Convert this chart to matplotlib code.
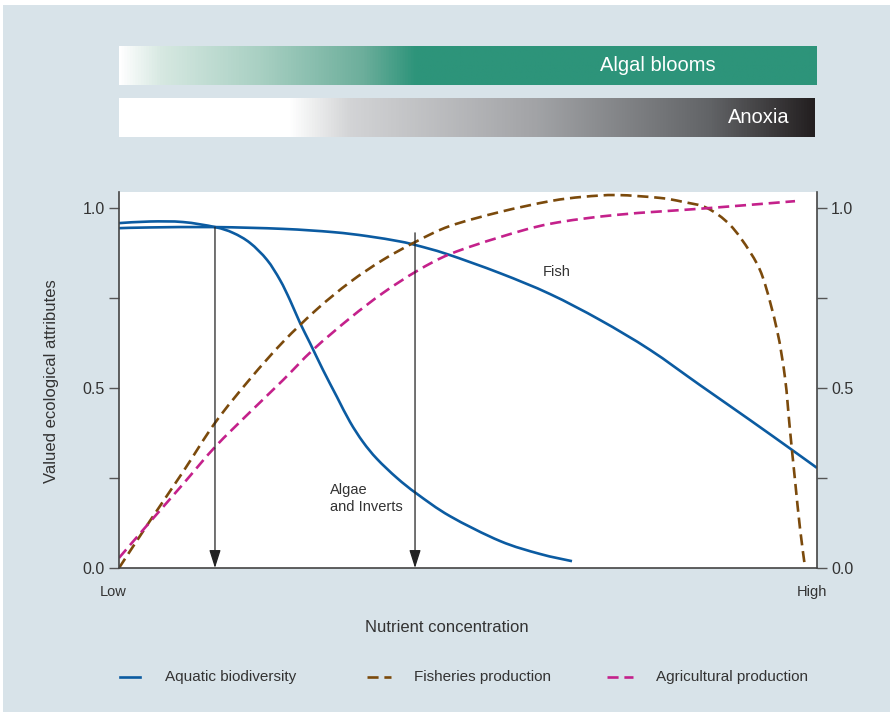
import numpy as np
import matplotlib
matplotlib.use("Agg")
import matplotlib.pyplot as plt
from matplotlib.colors import LinearSegmentedColormap
from matplotlib.patches import Rectangle, PathPatch
from matplotlib.path import Path
from matplotlib.lines import Line2D

# ---------------- data (x: 0 = Low, 1 = High) ----------------
fish_x = [0, 0.0444, 0.1375, 0.2350, 0.3066, 0.3553, 0.4026, 0.4269, 0.4699,
          0.5458, 0.6175, 0.6891, 0.7607, 0.8324, 0.9040, 0.9642, 1.0]
fish_y = [0.944, 0.946, 0.947, 0.942, 0.933, 0.922, 0.907, 0.896, 0.872,
          0.819, 0.761, 0.689, 0.606, 0.508, 0.411, 0.328, 0.278]

algae_x = [0, 0.0444, 0.0917, 0.1375, 0.1633, 0.1877, 0.2120, 0.2307, 0.2450,
           0.2593, 0.2736, 0.2923, 0.3123, 0.3309, 0.3496, 0.3696, 0.3983,
           0.4269, 0.4742, 0.5458, 0.6032, 0.6490]
algae_y = [0.958, 0.9625, 0.961, 0.947, 0.931, 0.903, 0.856, 0.800, 0.744,
           0.681, 0.625, 0.550, 0.475, 0.406, 0.350, 0.303, 0.250,
           0.206, 0.144, 0.075, 0.039, 0.019]

fisheries_x = [0, 0.0444, 0.0917, 0.1375, 0.1877, 0.2350, 0.2837, 0.3309, 0.3782,
               0.4269, 0.4742, 0.5458, 0.6175, 0.6648, 0.7135, 0.7751, 0.8080,
               0.8424, 0.8754, 0.9040, 0.9226, 0.9427, 0.9542, 0.9613, 0.9685,
               0.9756, 0.9828]
fisheries_y = [0, 0.131, 0.267, 0.403, 0.525, 0.628, 0.719, 0.794, 0.856,
               0.908, 0.950, 0.989, 1.019, 1.031, 1.036, 1.028, 1.017,
               1.000, 0.953, 0.878, 0.806, 0.661, 0.528, 0.383, 0.244,
               0.111, 0.003]

agri_x = [0, 0.0444, 0.0917, 0.1375, 0.1877, 0.2350, 0.2779, 0.3309, 0.3782,
          0.4269, 0.4742, 0.5458, 0.6175, 0.7135, 0.8467, 0.9685]
agri_y = [0.028, 0.128, 0.233, 0.336, 0.433, 0.522, 0.606, 0.694, 0.764,
          0.825, 0.872, 0.919, 0.956, 0.981, 1.000, 1.019]

# arrows: x position and top y
arrow_x = [0.1375, 0.4241]
arrow_top = [0.947, 0.931]

yticks = [0, 0.25, 0.5, 0.75, 1.0]
ytick_labels = ["0.0", "", "0.5", "", "1.0"]

legend_names = ["Aquatic biodiversity", "Fisheries production", "Agricultural production"]

# ---------------- style ----------------
bg = "#d8e3e9"
blue = "#0b5ba1"
brown = "#7b4a0c"
magenta = "#c4218b"
txt = "#333333"
plt.rcParams["font.family"] = ["Liberation Sans", "DejaVu Sans"]

W, H = 895, 717
fig = plt.figure(figsize=(W / 100, H / 100), dpi=100, facecolor="white")
fig.add_artist(Rectangle((3 / W, 1 - 712 / H), 887 / W, 707 / H,
                         transform=fig.transFigure, facecolor=bg,
                         edgecolor="none", zorder=0))


def fx(px):
    return px / W


def fy(py):
    return 1 - py / H


def smooth_path(xs, ys):
    # catmull-rom through the read points, as cubic bezier segments
    p = np.column_stack([xs, ys]).astype(float)
    p_ext = np.vstack([p[0], p, p[-1]])
    verts = [p[0]]
    codes = [Path.MOVETO]
    for i in range(1, len(p_ext) - 2):
        p0, p1, p2, p3 = p_ext[i - 1], p_ext[i], p_ext[i + 1], p_ext[i + 2]
        verts += [p1 + (p2 - p0) / 6, p2 - (p3 - p1) / 6, p2]
        codes += [Path.CURVE4] * 3
    return Path(verts, codes)


# ---------------- gradient bars ----------------
green_cmap = LinearSegmentedColormap.from_list(
    "algal", [(0, "#ffffff"), (0.06, "#d6e8e1"), (0.2, "#a9d0c3"),
              (0.35, "#6cae9b"), (0.425, "#2d947a"), (1, "#2d947a")])
grey_cmap = LinearSegmentedColormap.from_list(
    "anoxia", [(0, "#ffffff"), (0.245, "#ffffff"), (0.33, "#d3d4d6"),
               (0.6, "#a2a3a6"), (0.85, "#626467"), (1, "#231f20")])
grad = np.linspace(0, 1, 512).reshape(1, -1)

for (x0, x1, y0, y1, cmap, label, lx) in [
        (119, 817, 46, 85, green_cmap, "Algal blooms", 716),
        (119, 815, 98, 137, grey_cmap, "Anoxia", 790)]:
    bax = fig.add_axes([fx(x0), fy(y1), fx(x1 - x0), (y1 - y0) / H])
    bax.imshow(grad, aspect="auto", cmap=cmap, extent=(0, 1, 0, 1))
    bax.set_axis_off()
    fig.text(fx(lx), fy((y0 + y1) / 2), label, color="white", fontsize=14.5,
             ha="right", va="center")

# ---------------- main axes ----------------
ax = fig.add_axes([fx(119), fy(568), fx(817 - 119), (568 - 192) / H])
ax.set_facecolor("white")

series = [(fish_x, fish_y, blue, "-"),
          (algae_x, algae_y, blue, "-"),
          (fisheries_x, fisheries_y, brown, (0, (4.2, 2.2))),
          (agri_x, agri_y, magenta, (0, (4.2, 2.2)))]
for xs, ys, c, ls in series:
    ax.add_patch(PathPatch(smooth_path(xs, ys), fill=False, edgecolor=c,
                           lw=1.9, linestyle=ls, capstyle="butt"))

for xa, ya in zip(arrow_x, arrow_top):
    ax.annotate("", xy=(xa, 0.0), xytext=(xa, ya),
                arrowprops=dict(arrowstyle="-|>,head_length=1.1,head_width=0.35",
                                color="#222222", lw=0.9, shrinkA=0, shrinkB=0))

ax.text(0.627, 0.822, "Fish", fontsize=10.5, color=txt, ha="center", va="center")
ax.text(0.302, 0.150, "Algae\nand Inverts", fontsize=10.5, color=txt,
        ha="left", va="bottom", linespacing=1.3)

ax.set_xlim(0, 1)
ax.set_ylim(0, (568 - 192) / 360)
ax.set_yticks(yticks)
ax.set_yticklabels(ytick_labels)
ax.set_xticks([])
ax.tick_params(axis="y", direction="out", length=7, width=1, color="#555555",
               labelsize=11.5, labelcolor=txt, left=True, right=True,
               labelleft=True, labelright=True, pad=3)
for side in ["left", "right", "bottom"]:
    ax.spines[side].set_color("#444444")
    ax.spines[side].set_linewidth(1.2)
ax.spines["top"].set_visible(False)

fig.text(fx(113), fy(592), "Low", fontsize=10.5, color=txt, ha="center", va="center")
fig.text(fx(812), fy(592), "High", fontsize=10.5, color=txt, ha="center", va="center")
fig.text(fx(447), fy(627), "Nutrient concentration", fontsize=12, color=txt,
         ha="center", va="center")
fig.text(fx(52), fy(381), "Valued ecological attributes", fontsize=12, color=txt,
         ha="center", va="center", rotation=90)

# ---------------- legend ----------------
leg_colors = [blue, brown, magenta]
leg_dash = [None, (4.2, 2.2), (4.2, 2.2)]
leg_handle = [(120, 140), (367, 391), (607, 633)]
leg_text = [165, 414, 656]
for name, c, d, (h0, h1), tx in zip(legend_names, leg_colors, leg_dash, leg_handle, leg_text):
    ln = Line2D([fx(h0), fx(h1)], [fy(677), fy(677)], transform=fig.transFigure,
                color=c, lw=1.9)
    if d:
        ln.set_dashes(d)
    fig.add_artist(ln)
    fig.text(fx(tx), fy(677), name, fontsize=11, color=txt,
             ha="left", va="center")

fig.savefig("out.png", dpi=100, facecolor="white")
